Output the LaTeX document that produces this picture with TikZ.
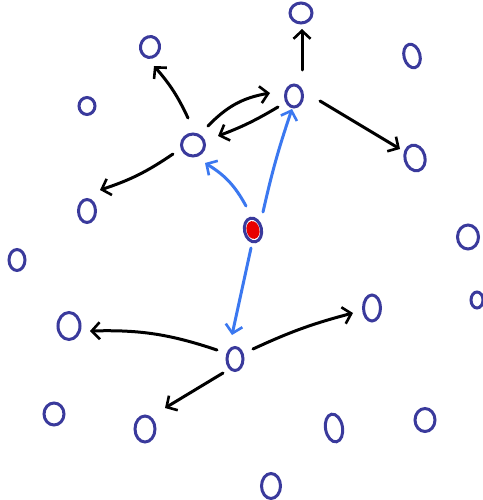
\documentclass[tikz,border=0pt]{standalone}
\usetikzlibrary{shapes.geometric,arrows.meta}
\definecolor{ink}{HTML}{3A3A9C}
\definecolor{bl}{HTML}{3B78F0}
\definecolor{rd}{HTML}{E80000}
\tikzset{
  ov/.style={ellipse,draw=ink,line width=3pt,inner sep=0pt,minimum width=#1},
  ov/.default=15pt,
  blk/.style={draw=black,line width=3pt,line cap=round,-{Straight Barb[length=8pt,width=17pt,line width=2.6pt]}},
  blu/.style={draw=bl,line width=3pt,line cap=round,-{Straight Barb[length=8pt,width=17pt,line width=2.6pt]}}
}
\begin{document}
\begin{tikzpicture}[x=1pt,y=-1pt]
\useasboundingbox (0,0) rectangle (482,500);
\node[ov=22pt,minimum height=20pt] (n1) at (301,13) {};
\node[ov=19pt,minimum height=21pt,rotate=-10] (n2) at (150,47) {};
\node[ov=16pt,minimum height=24pt,rotate=15] (n3) at (412,56) {};
\node[ov=16pt,minimum height=17pt] (n4) at (87,106) {};
\node[ov=17pt,minimum height=22pt] (n5) at (294,96) {};
\node[ov=23pt,minimum height=22pt] (n6) at (193,145) {};
\node[ov=20pt,minimum height=26pt,rotate=15] (n7) at (415,158) {};
\node[ov=17pt,minimum height=23pt] (n8) at (87,211) {};
\node[ellipse,draw=ink,fill=white,line width=3pt,inner sep=0pt,minimum width=17pt,minimum height=24pt,rotate=12,
  path picture={\fill[rd] (path picture bounding box.center) ellipse (6.5pt and 9pt);}] (n9) at (253,230) {};
\node[ov=21pt,minimum height=24pt] (n10) at (468,237) {};
\node[ov=16pt,minimum height=21pt] (n11) at (17,260) {};
\node[ov=12pt,minimum height=16pt] (n12) at (477,300) {};
\node[ov=22pt,minimum height=27pt] (n13) at (69,326) {};
\node[ov=17pt,minimum height=26pt] (n14) at (372,308) {};
\node[ov=16pt,minimum height=23pt] (n15) at (235,359) {};
\node[ov=20pt,minimum height=22pt] (n16) at (54,414) {};
\node[ov=20pt,minimum height=26pt] (n17) at (145,429) {};
\node[ov=17pt,minimum height=28pt,rotate=10] (n18) at (334,428) {};
\node[ov=20pt,minimum height=23pt] (n19) at (425,420) {};
\node[ov=19pt,minimum height=25pt] (n20) at (271,486) {};
% black arrows
\draw[blk] ([shift={(8,-26)}]n5.center) -- ([shift={(1,16)}]n1.center);
\draw[blk] ([shift={(26,5)}]n5.center) -- ([shift={(-15,-9)}]n7.center);
\draw[blk] ([shift={(-5,-27)}]n6.center) to[bend right=8] ([shift={(4,19)}]n2.center);
\draw[blk] ([shift={(-20,9)}]n6.center) to[bend left=8] ([shift={(13,-21)}]n8.center);
\draw[blk] ([shift={(15,-19)}]n6.center) to[bend left=18] ([shift={(-24,-3)}]n5.center);
\draw[blk] ([shift={(-16,11)}]n5.center) to[bend left=5] ([shift={(25,-9)}]n6.center);
\draw[blk] ([shift={(-18,-9)}]n15.center) to[bend right=10] ([shift={(21,5)}]n13.center);
\draw[blk] ([shift={(18,-10)}]n15.center) to[bend left=5] ([shift={(-19,5)}]n14.center);
\draw[blk] ([shift={(-12,14)}]n15.center) -- ([shift={(20,-21)}]n17.center);
% blue arrows
\draw[blu] ([shift={(-7,-24)}]n9.center) to[bend right=15] ([shift={(12,18)}]n6.center);
\draw[blu] ([shift={(10,-18)}]n9.center) to[bend left=3] ([shift={(-2,13)}]n5.center);
\draw[blu] ([shift={(-2,18)}]n9.center) -- ([shift={(-3,-24)}]n15.center);
\end{tikzpicture}
\end{document}
